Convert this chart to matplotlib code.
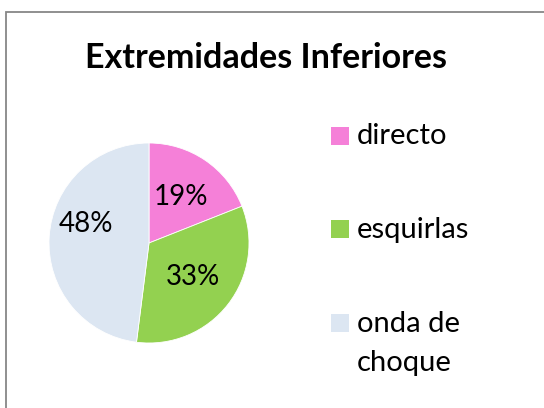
import matplotlib
matplotlib.use("Agg")
import matplotlib.pyplot as plt
from matplotlib.patches import Rectangle
import numpy as np

categories = ["directo", "esquirlas", "onda de\nchoque"]
values = [19, 33, 48]
colors = ["#F580D8", "#93D150", "#DCE6F2"]
title = "Extremidades Inferiores"

plt.rcParams['font.family'] = ['Lato', 'DejaVu Sans']

W, H = 544, 408
fig = plt.figure(figsize=(W/100, H/100), dpi=100)

# border
fig.patches.append(Rectangle((6/W, -0.1), 1.2, (H-12)/H + 0.1, transform=fig.transFigure,
                             fill=False, edgecolor="#878787", linewidth=1.3))

cx, cy, r = 149, 243, 100
ax = fig.add_axes([(cx-r)/W, (H-cy-r)/H, 2*r/W, 2*r/H])
wedges, texts, autotexts = ax.pie(values, colors=colors, startangle=90, counterclock=False,
                                  autopct='%1.0f%%', pctdistance=0.56,
                                  wedgeprops=dict(edgecolor='white', linewidth=0.6),
                                  textprops=dict(fontsize=20, color='black'))
ax.set_xlim(-1, 1)
ax.set_ylim(-1, 1)
ax.set_aspect('equal')
ax.axis('off')
# nudge the large slice label toward upper-left like the reference (best-fit placement)
w = wedges[2]
ang = np.deg2rad((w.theta1 + w.theta2) / 2 - 13)
autotexts[2].set_position((0.66*np.cos(ang), 0.66*np.sin(ang)))

fig.text(266/W, 1 - 58/H, title, ha='center', va='center', fontsize=24.5, fontweight='bold')

# legend (manual so the swatch aligns with the first line of multi-line labels)
leg_x, leg_y0, pitch, sw, line_gap = 331, 135.5, 93.5, 18, 40
for i, (cat, col) in enumerate(zip(categories, colors)):
    yc = leg_y0 + i * pitch
    fig.patches.append(Rectangle((leg_x/W, (H - yc - sw/2)/H), sw/W, sw/H,
                                 transform=fig.transFigure, facecolor=col, edgecolor='none'))
    for j, line in enumerate(cat.split("\n")):
        fig.text((leg_x + 26)/W, (H - yc - 9 - j*line_gap)/H, line, ha='left', va='baseline',
                 fontsize=21)

fig.savefig("out.png", dpi=100)
